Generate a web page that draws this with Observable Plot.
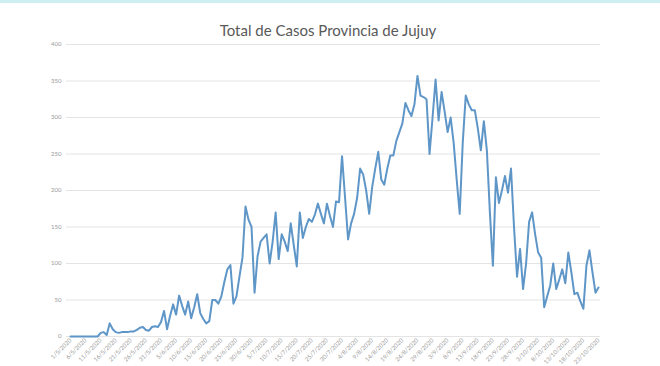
<!DOCTYPE html>
<html><head><meta charset="utf-8">
<script src="https://cdn.jsdelivr.net/npm/d3@7"></script>
<script src="https://cdn.jsdelivr.net/npm/@observablehq/plot@0.6"></script>
<style>
body{margin:0;background:#fff;width:660px;height:366px;overflow:hidden;position:relative;font-family:Lato,"Open Sans",sans-serif}
#band{position:absolute;left:0;top:0;width:660px;height:3px;background:#cdeef2}
#title{position:absolute;left:0;top:21px;width:656px;text-align:center;font-size:15px;color:#595959;font-family:Lato,sans-serif}
#chart{position:absolute;left:0;top:0}
</style></head><body>
<div id="chart"></div>
<div id="band"></div>
<div id="title">Total de Casos Provincia de Jujuy</div>
<script>
const startDate = "2020-05-01";
const cases = [
0,0,0,0,0,0,0,0,0,0,
5,6,2,18,10,6,5,6,6,6,
7,7,9,12,13,9,8,13,14,13,
20,35,10,28,44,30,56,42,30,48,
25,40,58,32,24,18,21,50,50,45,
55,75,92,98,45,55,82,108,178,160,
150,60,110,130,135,140,100,130,170,106,
140,130,117,155,125,96,170,135,150,161,
157,167,182,168,155,182,165,150,185,184,
247,190,133,155,168,190,230,222,200,168,
205,230,253,215,208,230,248,248,268,280,
292,320,310,302,318,357,330,328,325,250,
300,352,296,335,308,280,300,265,215,168,
265,330,318,310,310,285,255,295,255,170,
97,218,183,200,220,197,230,150,82,120,
65,100,157,170,140,115,108,40,55,70,
100,65,78,92,73,115,88,58,60,48,
38,97,118,88,60,67
];
const tickLabels = ["1/5/2020","6/5/2020","11/5/2020","16/5/2020","21/5/2020","26/5/2020","31/5/2020","5/6/2020","10/6/2020","15/6/2020","20/6/2020","25/6/2020","30/6/2020","5/7/2020","10/7/2020","15/7/2020","20/7/2020","25/7/2020","30/7/2020","4/8/2020","9/8/2020","14/8/2020","19/8/2020","24/8/2020","29/8/2020","3/9/2020","8/9/2020","13/9/2020","18/9/2020","23/9/2020","28/9/2020","3/10/2020","8/10/2020","13/10/2020","18/10/2020","23/10/2020"];
const yTicks = [0,50,100,150,200,250,300,350,400];

const parse = s => { const [d,m,y] = s.split("/").map(Number); return new Date(Date.UTC(y,m-1,d)); };
const t0 = new Date(startDate + "T00:00:00Z");
const data = cases.map((v,i) => ({date: new Date(t0.getTime() + i*864e5), v}));
const tickDates = tickLabels.map(parse);
const labelMap = new Map(tickDates.map((d,i) => [+d, tickLabels[i]]));

const chart = Plot.plot({
  width: 660, height: 366,
  marginTop: 44, marginBottom: 30, marginLeft: 66, marginRight: 60,
  style: {background: "transparent", fontFamily: "Lato, sans-serif"},
  x: {type: "utc", domain: [data[0].date, data[data.length-1].date], insetLeft: 4, insetRight: 2},
  y: {domain: [0, 400]},
  marks: [
    Plot.ruleY(yTicks, {stroke: "#e4e4e4", strokeWidth: 1}),
    Plot.axisY(yTicks, {tickSize: 0, tickPadding: 5, fontSize: 6, fill: "#9a9a9a", label: null}),
    Plot.axisX(tickDates, {tickSize: 0, tickRotate: -45, tickPadding: 3, fontSize: 6, fill: "#9a9a9a", label: null, tickFormat: d => labelMap.get(+d)}),
    Plot.lineY(data, {x: "date", y: "v", stroke: "#5f96c8", strokeWidth: 2})
  ]
});
document.getElementById("chart").append(chart);
</script>
</body></html>
